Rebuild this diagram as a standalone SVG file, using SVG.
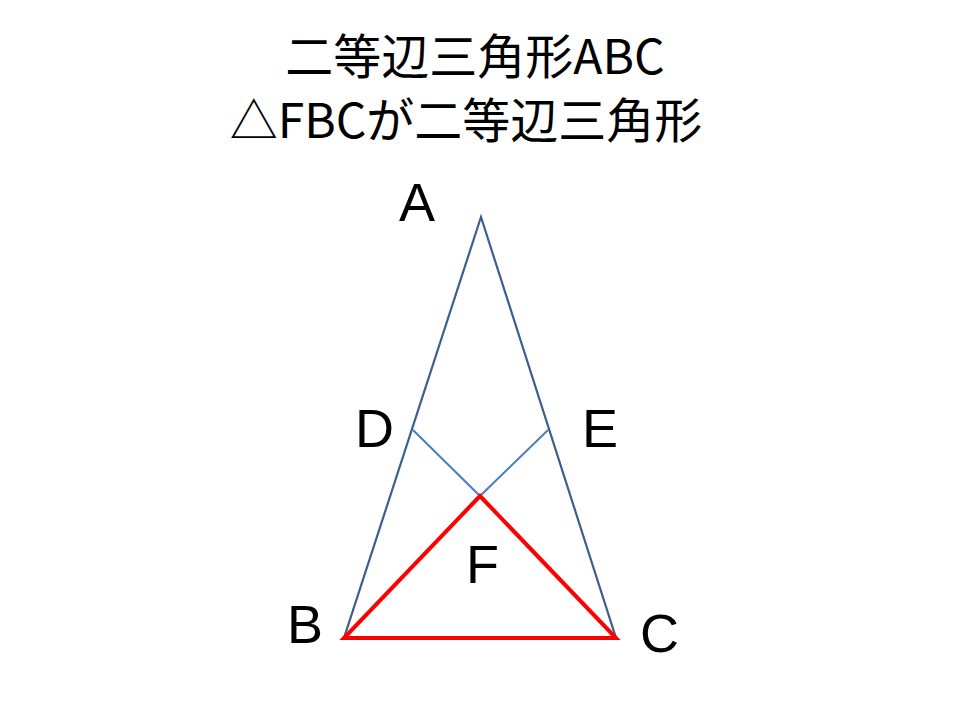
<svg xmlns="http://www.w3.org/2000/svg" width="960" height="720" viewBox="0 0 960 720">
<style>
.title{font-family:"Noto Sans CJK JP","Noto Sans",sans-serif;font-size:48px;fill:#000;text-anchor:middle}
.lbl{font-family:"Liberation Sans",Arial,sans-serif;font-size:54px;fill:#000}
.outer{fill:none;stroke:#3d5f8f;stroke-width:2.2}
.inner{fill:none;stroke:#4a7ebb;stroke-width:2}
.red{fill:none;stroke:#ff0000;stroke-width:4;stroke-linejoin:miter}
</style>
<rect width="960" height="720" fill="#fff"/>
<g id="title">
<text class="title" x="475" y="74">二等辺三角形ABC</text>
<text class="title" x="466" y="138">△FBCが二等辺三角形</text>
</g>
<g id="connectors">
<polygon class="outer" points="481,217 344,638 616,638"/>
<polyline class="inner" points="413,430 480,496 548,430"/>
<polygon class="red" points="480,496 344,638 616,638"/>
</g>
<g id="node-A"><text class="lbl" x="399" y="221">A</text></g>
<g id="node-B"><text class="lbl" x="287" y="643">B</text></g>
<g id="node-C"><text class="lbl" x="640" y="652">C</text></g>
<g id="node-D"><text class="lbl" x="355" y="447">D</text></g>
<g id="node-E"><text class="lbl" x="582" y="447">E</text></g>
<g id="node-F"><text class="lbl" x="466" y="583">F</text></g>
</svg>
